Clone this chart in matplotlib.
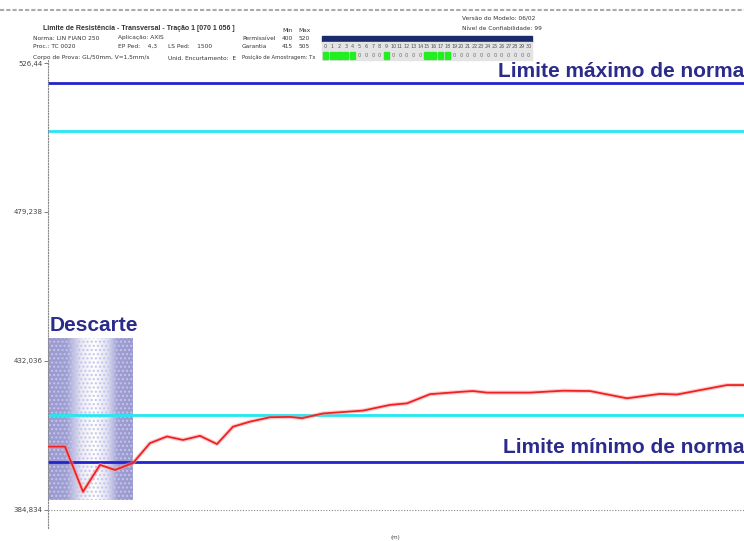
import numpy as np
import matplotlib
matplotlib.use('Agg')
import matplotlib.pyplot as plt
from matplotlib.colors import LinearSegmentedColormap
from matplotlib.patches import Rectangle

# resistência transversal ao longo do comprimento (m)
dist = [0, 3.4, 7, 10.4, 13.4, 17, 20.4, 23.8, 27, 30.4, 33.8, 37, 40.4, 44.4,
        48.4, 50.8, 55, 63, 68.4, 71.8, 76.4, 83, 85, 87.8, 96.4, 103, 108.4,
        115.8, 122.4, 125.8, 135.8, 139.2]
resist = [404.9, 404.9, 390.6, 399.1, 397.5, 399.7, 406.0, 408.1, 407.0, 408.3,
          405.7, 411.2, 412.8, 414.2, 414.3, 413.9, 415.4, 416.3, 418.1, 418.6,
          421.5, 422.3, 422.5, 422.0, 422.0, 422.6, 422.5, 420.2, 421.6, 421.4,
          424.4, 424.4]

lim_min, lim_max = 400, 520          # limites permissíveis da norma
gar_min, gar_max = 415, 505          # limites de garantia
descarte = (0, 17)                   # trecho descartado (m)

yticks = [384.834, 432.036, 479.238, 526.44]
ytick_labels = ['384,834', '432,036', '479,238', '526,44']

amostras = list(range(31))
amostras_ok = [0, 1, 2, 3, 4, 9, 15, 16, 17, 18]

navy = '#2b2b8c'
big = dict(color=navy, fontsize=15, fontweight='bold', family='Liberation Sans')
W, H = 744, 541

fig = plt.figure(figsize=(7.44, 5.41), dpi=100)
ax = fig.add_axes([48 / W, 1 - 528 / H, 1 - 48 / W, (528 - 60) / H])
ax.set_xlim(0, 139.2)
ax.set_ylim(379.1, 527.4)

# faixa de descarte com degradê
cmap = LinearSegmentedColormap.from_list('desc', ['#ffffff', '#9a9ad0'])
xs = np.linspace(0, 1, 200)
shade = np.interp(xs, [0, 0.22, 0.4, 0.55, 0.7, 0.82, 1], [1, 0.95, 0.2, 0.0, 0.3, 0.95, 1])
ax.imshow(shade[None, :], cmap=cmap, vmin=0, vmax=1, aspect='auto',
          extent=[descarte[0], descarte[1], 388.0, 439.3], zorder=1)
ax.add_patch(Rectangle((descarte[0], 388.0), descarte[1] - descarte[0], 51.3,
                       fill=False, hatch='....', edgecolor='#c4c4ec', lw=0, zorder=1))
ax.text(0.4, 440.3, 'Descarte', va='bottom', ha='left', zorder=5, **big)

ax.axhline(lim_max, color='#2323cc', lw=2, zorder=2)
ax.axhline(lim_min, color='#2323cc', lw=2, zorder=2)
ax.axhline(gar_max, color='#22e8f2', lw=2, zorder=2)
ax.axhline(gar_min, color='#22e8f2', lw=2, zorder=2)
ax.axhline(yticks[0], color='#888888', lw=0.8, ls=(0, (1, 1.5)), zorder=2)

ax.plot(dist, resist, color='#ff9999', lw=3, alpha=0.5, zorder=3)
ax.plot(dist, resist, color='#ee2222', lw=1.3, zorder=4)

ax.text(139.2, lim_max + 0.6, 'Limite máximo de norma', ha='right', va='bottom',
        zorder=5, **big)
ax.text(139.2, lim_min + 1.5, 'Limite mínimo de norma', ha='right', va='bottom',
        zorder=5, **big)

for s in ['top', 'right', 'bottom']:
    ax.spines[s].set_visible(False)
ax.spines['left'].set_color('#888888')
ax.spines['left'].set_linestyle((0, (1, 1.5)))
ax.spines['left'].set_linewidth(0.8)
ax.set_xticks([])
ax.set_yticks(yticks)
ax.set_yticklabels(ytick_labels, fontsize=5, color='#444444')
ax.tick_params(axis='y', length=3, width=0.6, color='#666666', pad=1)

# cabeçalho do relatório
def txt(x, y, s, **kw):
    kw.setdefault('fontsize', 4.2)
    kw.setdefault('color', '#333333')
    fig.text(x / W, 1 - y / H, s, va='center', ha='left', **kw)

fig.add_artist(plt.Line2D([0, 1], [1 - 10 / H] * 2, color='#aaaaaa', lw=1.5,
                          ls=(0, (2, 1))))
txt(43, 28, 'Limite de Resistência - Transversal - Tração 1 [070 1 056 ]',
    fontsize=5, fontweight='bold', family='Liberation Sans')
txt(33, 38, 'Norma: LIN FIANO 250')
txt(118, 38, 'Aplicação: AXIS')
txt(33, 46, 'Proc.: TC 0020')
txt(118, 46, 'EP Ped:    4,3')
txt(168, 47, 'LS Ped:    1500')
txt(33, 58, 'Corpo de Prova: GL/50mm, V=1,5mm/s')
txt(168, 58, 'Unid. Encurtamento:  E')
txt(282, 30, 'Min')
txt(298, 30, 'Max')
txt(242, 38, 'Permissível')
txt(282, 38, str(lim_min))
txt(299, 38, str(lim_max))
txt(242, 47, 'Garantia')
txt(282, 47, str(gar_min))
txt(299, 47, str(gar_max))
txt(242, 57, 'Posição de Amostragem: Tx', fontsize=3.8)
txt(462, 18, 'Versão do Modelo: 06/02')
txt(462, 28, 'Nível de Confiabilidade: 99')

# quadro de amostras
cw = (532 - 322) / len(amostras)
fig.add_artist(Rectangle((322 / W, 1 - 42 / H), 210 / W, 6 / H, color='#1a2a6c',
                         transform=fig.transFigure))
fig.add_artist(Rectangle((322 / W, 1 - 60 / H), 210 / W, 18 / H, color='#e4e4e4',
                         transform=fig.transFigure))
for i in amostras:
    x0 = 322 + i * cw
    fig.text((x0 + cw / 2) / W, 1 - 47 / H, str(i), fontsize=3.5, color='#555555',
             ha='center', va='center')
    if i in amostras_ok:
        fig.add_artist(Rectangle(((x0 + 0.8) / W, 1 - 59 / H), (cw - 1.6) / W, 7 / H,
                                 color='#22ee22', transform=fig.transFigure))
    else:
        fig.text((x0 + cw / 2) / W, 1 - 55.5 / H, '0', fontsize=3.5, color='#666666',
                 ha='center', va='center')

fig.text(395 / W, 1 - 537 / H, '(m)', fontsize=4, color='#444444', ha='center',
         va='center')

fig.savefig('out.png', dpi=100)
